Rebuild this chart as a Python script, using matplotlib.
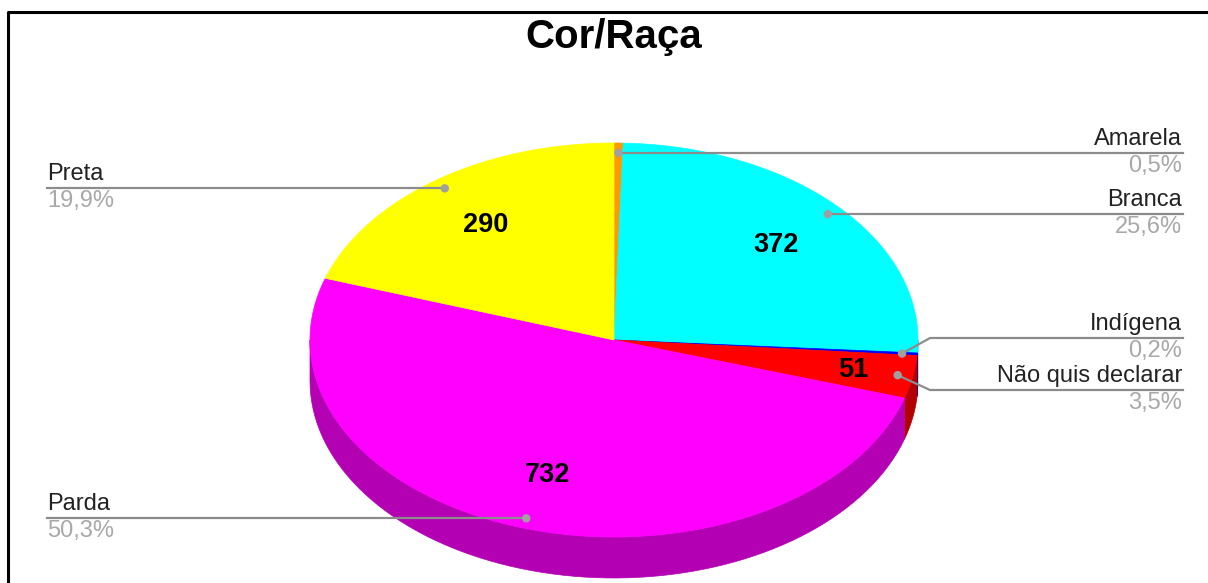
import numpy as np
import matplotlib
matplotlib.use("Agg")
import matplotlib.pyplot as plt
from matplotlib.patches import Polygon, Circle

# dados do grafico
categorias = ["Amarela", "Branca", "Indígena", "Não quis declarar", "Parda", "Preta"]
valores = [7, 372, 3, 51, 732, 290]
cores = ["#ff9900", "#00ffff", "#0000ff", "#ff0000", "#ff00ff", "#ffff00"]
cores_lado = ["#b36b00", "#00b3b3", "#0000b3", "#b30000", "#b300b3", "#b3b300"]
titulo = "Cor/Raça"

plt.rcParams['font.family'] = ['Liberation Sans', 'DejaVu Sans']

fig = plt.figure(figsize=(12.08, 5.83), dpi=100)
ax = fig.add_axes([0, 0, 1, 1])
ax.set_xlim(0, 1208)
ax.set_ylim(583, 0)
ax.axis("off")

# geometria da pizza 3D (pixels)
cx, cy = 614, 340
rx, ry = 304, 197
prof = 41

def ponto(ang, f=1.0, dz=0):
    a = np.radians(ang)
    return cx + f * rx * np.cos(a), cy - f * ry * np.sin(a) + dz

total = sum(valores)
acum = np.concatenate([[0], np.cumsum(valores)]) / total * 360
ini = 90 - acum[:-1]   # angulo inicial (sentido horario a partir do topo)
fim = 90 - acum[1:]

# paredes laterais (so a metade da frente aparece)
for i in range(len(valores)):
    a0, a1 = fim[i], ini[i]
    for k in [0, -360, 360]:
        b0 = max(a0 + k, -180)
        b1 = min(a1 + k, 0)
        if b1 > b0:
            angs = np.linspace(b0, b1, 80)
            topo = [ponto(a) for a in angs]
            baixo = [ponto(a, dz=prof) for a in angs[::-1]]
            ax.add_patch(Polygon(topo + baixo, closed=True, facecolor=cores_lado[i],
                                 edgecolor=cores_lado[i], lw=0.5, zorder=1))

# face de cima
for i in range(len(valores)):
    angs = np.linspace(ini[i], fim[i], max(int(abs(ini[i] - fim[i]) * 2), 3))
    pts = [(cx, cy)] + [ponto(a) for a in angs]
    ax.add_patch(Polygon(pts, closed=True, facecolor=cores[i], edgecolor=cores[i],
                         lw=0.5, zorder=2))

# rotulos com os valores
for i in range(len(valores)):
    pct = valores[i] / total * 100
    if pct < 1:
        continue
    meio = (ini[i] + fim[i]) / 2
    f = 0.72 if pct > 10 else 0.8
    x, y = ponto(meio, f)
    ax.text(x, y, str(valores[i]), ha="center", va="center", fontsize=19.5,
            fontweight="bold", color="black", zorder=5)

# legendas com linhas
ajuste_y = {"Indígena": 338, "Não quis declarar": 390}
cinza = "#8c8c8c"
for i in range(len(valores)):
    meio = (ini[i] + fim[i]) / 2
    px, py = ponto(meio, 0.95)
    ly = ajuste_y.get(categorias[i], py)
    pct = f"{valores[i] / total * 100:.1f}".replace(".", ",") + "%"
    ax.add_patch(Circle((px, py), 3.5, color="#a0a0a0", zorder=6))
    if px > cx - 20 and categorias[i] != "Parda":
        xt = 1183
        if ly != py:
            ax.plot([px, 930, xt], [py, ly, ly], color=cinza, lw=1.6, zorder=4)
        else:
            ax.plot([px, xt], [py, ly], color=cinza, lw=1.6, zorder=4)
        ha = "right"
        xt = 1182
    else:
        xt = 47
        ax.plot([px, xt], [py, ly], color=cinza, lw=1.6, zorder=4)
        ha = "left"
    ax.text(xt, ly - 3, categorias[i], ha=ha, va="bottom", fontsize=17,
            color="#222222", zorder=5)
    ax.text(xt, ly + 2, pct, ha=ha, va="top", fontsize=17, color="#a8a8a8", zorder=5)

# titulo
ax.text(614, 37, titulo, ha="center", va="center", fontsize=29, fontweight="bold")

# moldura
ax.plot([8, 8, 1208], [583, 12, 12], color="black", lw=2.2, zorder=10)

fig.savefig("out.png", dpi=100)
